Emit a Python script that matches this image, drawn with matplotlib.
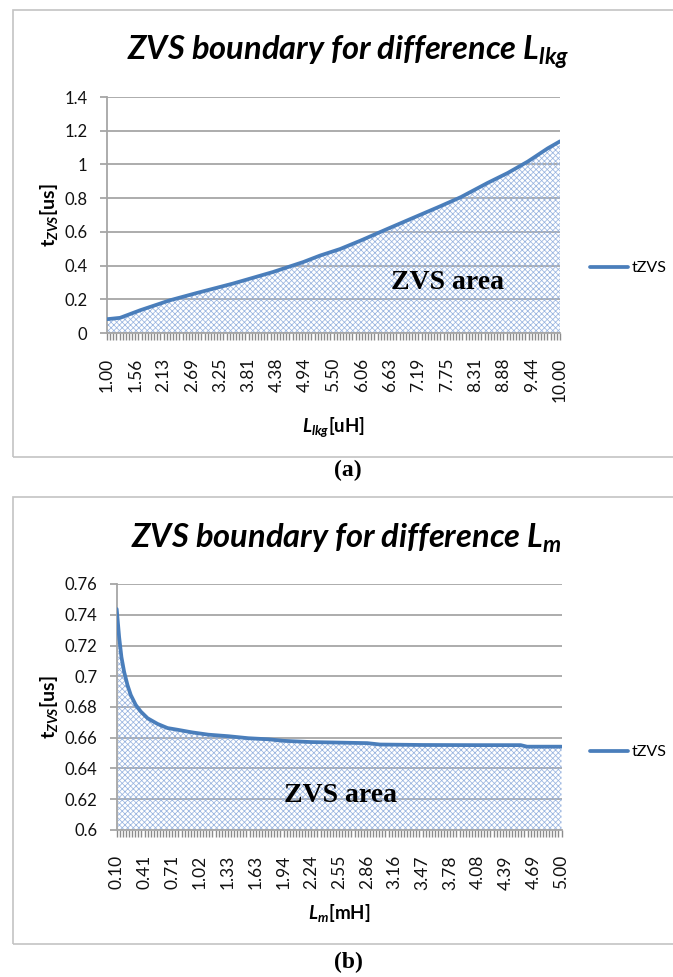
import numpy as np
import matplotlib
matplotlib.use("Agg")
import matplotlib.pyplot as plt
from matplotlib.patches import Rectangle

plt.rcParams["font.family"] = ["Lato", "DejaVu Sans"]
plt.rcParams["mathtext.fontset"] = "custom"
plt.rcParams["mathtext.rm"] = "Lato"
plt.rcParams["mathtext.it"] = "Lato:italic"
plt.rcParams["mathtext.bf"] = "Lato:bold"
plt.rcParams["mathtext.bfit"] = "Lato:italic:bold"
plt.rcParams["hatch.linewidth"] = 0.55

# ---- (a) ZVS time versus leakage inductance ----
lkg_uH = [1.00, 1.26, 1.66, 2.25, 2.78, 3.50, 4.30, 4.90, 5.23, 5.63,
          6.03, 6.56, 7.09, 7.63, 8.03, 8.56, 8.96, 9.36, 9.76, 10.00]
tzvs_lkg = [0.082, 0.090, 0.135, 0.194, 0.237, 0.293, 0.362, 0.421, 0.459, 0.498,
            0.547, 0.616, 0.684, 0.753, 0.806, 0.890, 0.949, 1.017, 1.096, 1.137]
lkg_ticklabels = ["1.00", "1.56", "2.13", "2.69", "3.25", "3.81", "4.38", "4.94",
                  "5.50", "6.06", "6.63", "7.19", "7.75", "8.31", "8.88", "9.44", "10.00"]
lkg_yticks = [0, 0.2, 0.4, 0.6, 0.8, 1.0, 1.2, 1.4]
lkg_yticklabels = ["0", "0.2", "0.4", "0.6", "0.8", "1", "1.2", "1.4"]

# ---- (b) ZVS time versus magnetizing inductance ----
lm_mH = [0.10, 0.127, 0.152, 0.182, 0.219, 0.255, 0.31, 0.366, 0.44, 0.55,
         0.66, 0.77, 0.93, 1.11, 1.33, 1.55, 1.77, 1.94, 2.24, 2.86,
         3.00, 3.47, 4.08, 4.55, 4.62, 5.00]
tzvs_lm = [0.7437, 0.7254, 0.7125, 0.7028, 0.6942, 0.6878, 0.6813, 0.6770, 0.6727, 0.6690,
           0.6663, 0.6652, 0.6635, 0.6620, 0.6610, 0.6597, 0.6590, 0.6580, 0.6572, 0.6565,
           0.6556, 0.6553, 0.6552, 0.6552, 0.6542, 0.6542]
lm_ticklabels = ["0.10", "0.41", "0.71", "1.02", "1.33", "1.63", "1.94", "2.24",
                 "2.55", "2.86", "3.16", "3.47", "3.78", "4.08", "4.39", "4.69", "5.00"]
lm_yticks = [0.60, 0.62, 0.64, 0.66, 0.68, 0.70, 0.72, 0.74, 0.76]
lm_yticklabels = ["0.6", "0.62", "0.64", "0.66", "0.68", "0.7", "0.72", "0.74", "0.76"]

n_categories = 145

W, H = 673, 977
fig = plt.figure(figsize=(W / 100, H / 100), dpi=100)
fig.patch.set_facecolor("white")

LINE = "#4a7ebb"
HATCH = "#9ab5e0"
GRID = "#a6a6a6"


def px_rect(left, top, right, bottom):
    return [left / W, 1 - bottom / H, (right - left) / W, (bottom - top) / H]


def panel(rect, x, y, ticklabels, yticks, yticklabels, title, xlabel,
          title_xy, legend_y, area_xy, caption, caption_y, frame):
    # light frame around the panel
    fl, ft, fr, fb = frame
    fig.add_artist(Rectangle((fl / W, 1 - fb / H), (fr - fl) / W, (fb - ft) / H,
                             transform=fig.transFigure, fill=False,
                             edgecolor="#c4c4c4", lw=1.2, clip_on=False))
    ax = fig.add_axes(rect)
    x0, x1 = x[0], x[-1]
    ylo, yhi = yticks[0], yticks[-1]
    ax.set_xlim(x0, x1)
    ax.set_ylim(ylo, yhi)

    ax.fill_between(x, y, ylo, facecolor="none", edgecolor=HATCH,
                    linewidth=0, hatch="xxxxxx", zorder=1)
    ax.plot(x, y, color=LINE, lw=2.7, solid_capstyle="round", label="tZVS", zorder=3)

    ax.set_yticks(yticks)
    ax.set_yticklabels(yticklabels)
    ax.set_xticks(np.linspace(x0, x1, len(ticklabels)))
    ax.set_xticklabels(ticklabels, rotation=90)
    ax.set_xticks(np.linspace(x0, x1, n_categories), minor=True)

    ax.grid(axis="y", color=GRID, lw=1.3, zorder=0)
    ax.set_axisbelow(True)
    for s in ("top", "right"):
        ax.spines[s].set_visible(False)
    for s in ("left", "bottom"):
        ax.spines[s].set_color(GRID)
        ax.spines[s].set_linewidth(1.3)
    ax.tick_params(axis="y", length=5, width=1.3, color=GRID, labelsize=12,
                   labelcolor="#111111", pad=9)
    ax.tick_params(axis="x", which="both", length=5, width=1.0, color="#8c8c8c",
                   labelsize=12.5, labelcolor="#111111", pad=13)

    fig.text(title_xy[0] / W, 1 - title_xy[1] / H, title, fontsize=23.5,
             fontweight="bold", fontstyle="italic", ha="center", va="baseline")

    ax.set_ylabel(r"$\mathbf{t}_{\mathbfit{ZVS}}$[us]", fontsize=14,
                  fontweight="bold", labelpad=3)
    ax.set_xlabel(xlabel, fontsize=13.5, fontweight="bold", labelpad=9)

    ax.text(area_xy[0], area_xy[1], "ZVS area", transform=ax.transAxes,
            family="Liberation Serif", fontweight="bold", fontsize=20,
            ha="center", va="baseline", zorder=4)

    ax.legend(loc="center left", bbox_to_anchor=(590 / W, 1 - legend_y / H),
              bbox_transform=fig.transFigure, frameon=False, fontsize=11.5,
              handlelength=2.4, handletextpad=0.2, borderpad=0, borderaxespad=0)

    fig.text(348 / W, 1 - caption_y / H, caption, family="Liberation Serif",
             fontweight="bold", fontsize=17, ha="center", va="baseline")
    return ax


panel(px_rect(107, 97, 560, 333), lkg_uH, tzvs_lkg, lkg_ticklabels,
      lkg_yticks, lkg_yticklabels,
      r"ZVS boundary for difference $\mathbfit{L}_{\mathbfit{lkg}}$",
      r"$\mathbfit{L}_{\mathbfit{lkg}}$[uH]",
      (348.5, 60), 268, (0.752, 0.186), "(a)", 476, (13, 10, 700, 457))

panel(px_rect(116.7, 584, 561.5, 830), lm_mH, tzvs_lm, lm_ticklabels,
      lm_yticks, lm_yticklabels,
      r"ZVS boundary for difference $\mathbfit{L}_{\mathbfit{m}}$",
      r"$\mathbfit{L}_{\mathbfit{m}}$[mH]",
      (346.5, 548), 752, (0.504, 0.114), "(b)", 968, (13, 497, 700, 944))

fig.savefig("out.png", dpi=100, facecolor="white")
